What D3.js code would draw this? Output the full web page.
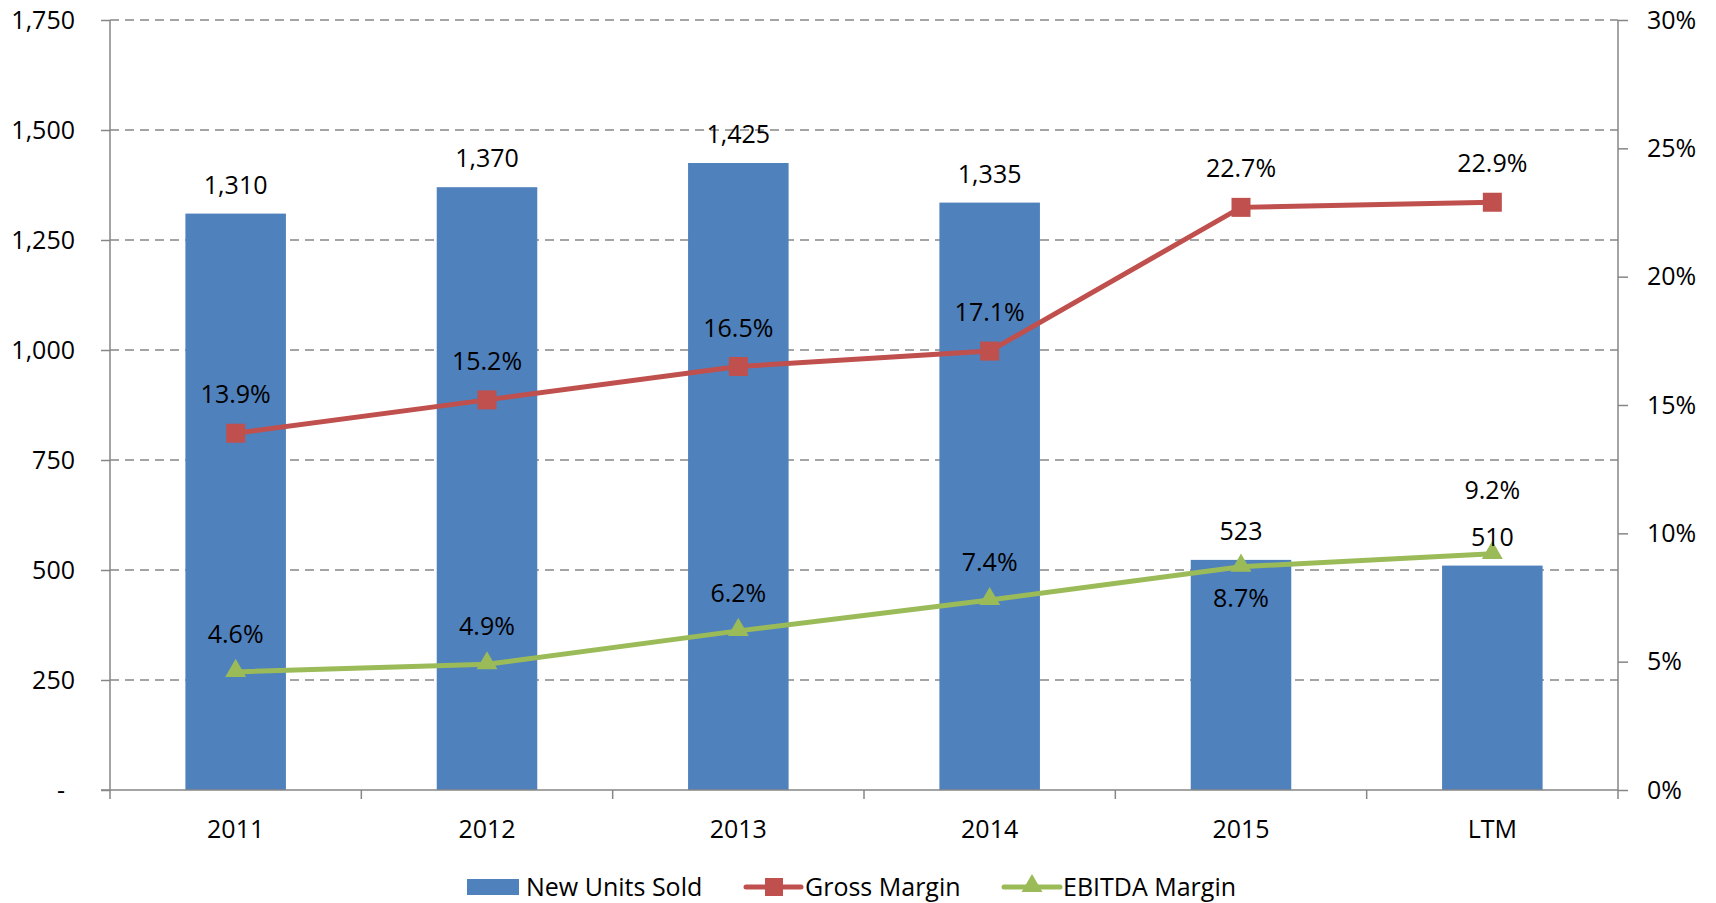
<!DOCTYPE html>
<html>
<head>
<meta charset="utf-8">
<script src="https://cdn.jsdelivr.net/npm/d3@7"></script>
<style>
  body { margin: 0; background: #fff; }
  svg { display: block; }
</style>
</head>
<body>
<svg></svg>
<script>
const categories = ['2011', '2012', '2013', '2014', '2015', 'LTM'];
const unitsSold = [1310, 1370, 1425, 1335, 523, 510];
const grossMargin = [13.9, 15.2, 16.5, 17.1, 22.7, 22.9];
const ebitdaMargin = [4.6, 4.9, 6.2, 7.4, 8.7, 9.2];
const leftTicks = [0, 250, 500, 750, 1000, 1250, 1500, 1750];
const rightTicks = [0, 5, 10, 15, 20, 25, 30];
const seriesNames = ['New Units Sold', 'Gross Margin', 'EBITDA Margin'];

const WIDTH = 1716;
const HEIGHT = 903;
const LEFT = 110;
const RIGHT = 1618;
const TOP = 20;
const BOTTOM = 790;

const BLUE = '#4F81BD';
const RED = '#C0504D';
const GREEN = '#9BBB59';
const AXIS = '#868686';
const FONT = '"Open Sans", sans-serif';

const svg = d3.select('svg').
attr('width', WIDTH).
attr('height', HEIGHT).
attr('font-family', FONT).
attr('font-size', 25);

/* --SCALES-- */

const xScale = d3.scaleBand().
domain(categories).
range([LEFT, RIGHT]).
padding(0);

const yLeft = d3.scaleLinear().
domain([0, 1750]).
range([BOTTOM, TOP]);

const yRight = d3.scaleLinear().
domain([0, 30]).
range([BOTTOM, TOP]);

const cx = d => xScale(d) + xScale.bandwidth() / 2;

/* --GRID-- */

svg.append('g').
attr('class', 'grid').
selectAll('line').
data(leftTicks.filter(d => d > 0)).
enter().
append('line').
attr('x1', LEFT).
attr('x2', RIGHT).
attr('y1', d => yLeft(d)).
attr('y2', d => yLeft(d)).
attr('stroke', AXIS).
attr('stroke-width', 1.5).
attr('stroke-dasharray', '9,6');

/* --BARS-- */

const barWidth = xScale.bandwidth() * 0.4;

svg.append('g').
selectAll('rect').
data(unitsSold).
enter().
append('rect').
attr('x', (d, i) => cx(categories[i]) - barWidth / 2).
attr('y', d => yLeft(d)).
attr('width', barWidth).
attr('height', d => BOTTOM - yLeft(d)).
attr('fill', BLUE);

/* --AXES-- */

const leftAxis = d3.axisLeft(yLeft).
tickValues(leftTicks).
tickSize(9).
tickPadding(26).
tickFormat(d => d === 0 ? '-' : d3.format(',')(d));

const gLeft = svg.append('g').
attr('transform', `translate(${LEFT},0)`).
call(leftAxis);
gLeft.selectAll('text').filter(d => d === 0).attr('dx', -10);

const rightAxis = d3.axisRight(yRight).
tickValues(rightTicks).
tickSize(10).
tickPadding(19).
tickFormat(d => d + '%');

const gRight = svg.append('g').
attr('transform', `translate(${RIGHT},0)`).
call(rightAxis);

const xAxis = d3.axisBottom(xScale).
tickSize(0).
tickPadding(30);

const gX = svg.append('g').
attr('transform', `translate(0,${BOTTOM})`).
call(xAxis);

// category boundary ticks
gX.selectAll('.bound').
data(d3.range(categories.length + 1)).
enter().
append('line').
attr('class', 'bound').
attr('x1', i => LEFT + i * xScale.bandwidth()).
attr('x2', i => LEFT + i * xScale.bandwidth()).
attr('y1', 0).
attr('y2', 9).
attr('stroke', AXIS).
attr('stroke-width', 1.5);

[gLeft, gRight, gX].forEach(g => {
  g.attr('font-family', FONT).attr('font-size', 25);
  g.selectAll('path').attr('stroke', AXIS).attr('stroke-width', 1.5);
  g.selectAll('.tick line').attr('stroke', AXIS).attr('stroke-width', 1.5);
  g.selectAll('text').attr('fill', '#000');
});
gLeft.select('.domain').attr('d', `M0,${TOP}V${BOTTOM}`);
gRight.select('.domain').attr('d', `M0,${TOP}V${BOTTOM}`);
gX.select('.domain').attr('d', `M${LEFT - 9},0H${RIGHT}`);

/* --LINES-- */

const line = d3.line().
x((d, i) => cx(categories[i])).
y(d => yRight(d));

svg.append('path').
datum(grossMargin).
attr('d', line).
attr('fill', 'none').
attr('stroke', RED).
attr('stroke-width', 5);

svg.append('path').
datum(ebitdaMargin).
attr('d', line).
attr('fill', 'none').
attr('stroke', GREEN).
attr('stroke-width', 5);

svg.append('g').
selectAll('rect').
data(grossMargin).
enter().
append('rect').
attr('x', (d, i) => cx(categories[i]) - 9.5).
attr('y', d => yRight(d) - 9.5).
attr('width', 19).
attr('height', 19).
attr('fill', RED);

const tri = d3.symbol().type(d3.symbolTriangle).size(190);

svg.append('g').
selectAll('path').
data(ebitdaMargin).
enter().
append('path').
attr('d', tri).
attr('transform', (d, i) => `translate(${cx(categories[i])},${yRight(d) - 1})`).
attr('fill', GREEN);

/* --DATA LABELS-- */

const labels = svg.append('g').
attr('text-anchor', 'middle').
attr('fill', '#000');

labels.selectAll('.bar-label').
data(unitsSold).
enter().
append('text').
attr('x', (d, i) => cx(categories[i])).
attr('y', d => yLeft(d) - 20).
text(d => d3.format(',')(d));

labels.selectAll('.gm-label').
data(grossMargin).
enter().
append('text').
attr('x', (d, i) => cx(categories[i])).
attr('y', d => yRight(d) - 30).
text(d => d.toFixed(1) + '%');

// 2015 sits under its point, LTM is lifted clear of the bar label
const ebitdaOffset = [-29, -29, -29, -29, 40, -55];

labels.selectAll('.em-label').
data(ebitdaMargin).
enter().
append('text').
attr('x', (d, i) => cx(categories[i])).
attr('y', (d, i) => yRight(d) + ebitdaOffset[i]).
text(d => d.toFixed(1) + '%');

/* --LEGEND-- */

const legend = svg.append('g').
attr('transform', 'translate(0,887)');

legend.append('rect').
attr('x', 467).
attr('y', -8).
attr('width', 52).
attr('height', 16).
attr('fill', BLUE);

legend.append('line').
attr('x1', 746).attr('x2', 801).
attr('stroke', RED).attr('stroke-width', 5).attr('stroke-linecap', 'round');
legend.append('rect').
attr('x', 765).attr('y', -9).attr('width', 18).attr('height', 18).
attr('fill', RED);

legend.append('line').
attr('x1', 1004).attr('x2', 1060).
attr('stroke', GREEN).attr('stroke-width', 5).attr('stroke-linecap', 'round');
legend.append('path').
attr('d', tri).
attr('transform', 'translate(1032,-1)').
attr('fill', GREEN);

legend.selectAll('text').
data(seriesNames).
enter().
append('text').
attr('x', (d, i) => [526, 805, 1063][i]).
attr('y', 9).
attr('fill', '#000').
text(d => d);
</script>
</body>
</html>
